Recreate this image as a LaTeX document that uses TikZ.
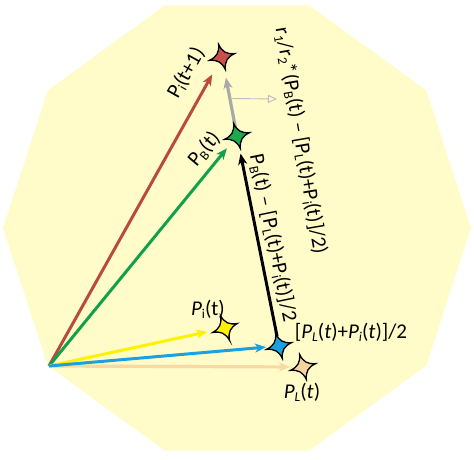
\documentclass[tikz,border=0pt]{standalone}
\usepackage{fontspec}
\setmainfont{Carlito}
\usetikzlibrary{arrows.meta,calc}
\definecolor{bg}{HTML}{FFFCC9}
\definecolor{cred}{HTML}{B84A3E}
\definecolor{sred}{HTML}{C9504A}
\definecolor{cgrn}{HTML}{12A04A}
\definecolor{sgrn}{HTML}{1DAA4C}
\definecolor{cyel}{HTML}{FFF200}
\definecolor{cblu}{HTML}{1BA1DF}
\definecolor{ctan}{HTML}{F8D9A3}
\definecolor{stan}{HTML}{F4D49C}
\definecolor{cgry}{HTML}{A9A9A9}
\definecolor{cthin}{HTML}{BDBDBD}
\newcommand\sbs[1]{\raisebox{-0.28ex}{\fontsize{13.5}{14}\selectfont #1}}
\newcommand\qstar[3]{%
  \begin{scope}[shift={(#1.center)},rotate=#3]
    \draw[fill=#2,line width=1.3pt,line join=miter]
      (0,13) .. controls (1.5,5) and (5,1.5) .. (13,0)
      .. controls (5,-1.5) and (1.5,-5) .. (0,-13)
      .. controls (-1.5,-5) and (-5,-1.5) .. (-13,0)
      .. controls (-5,1.5) and (-1.5,5) .. cycle;
  \end{scope}}
\begin{document}
\begin{tikzpicture}[x=1pt,y=-1pt,
  arr/.style={line width=3pt,-{Stealth[length=11pt,width=9pt,inset=3pt]}},
  starn/.style={inner sep=0pt,minimum size=0pt},
  lbl/.style={font=\fontsize{21}{23}\selectfont,inner sep=1pt}]
\useasboundingbox (0,0) rectangle (474,460);
\fill[bg,shift={(237,228)}] (0:234) \foreach \a in {36,72,...,324}{ -- (\a:234)} -- cycle;
\coordinate (O) at (49,366);
\node[starn] (red) at (222,57) {};
\node[starn] (grn) at (237,136) {};
\node[starn] (yel) at (225,328) {};
\node[starn] (blu) at (279,346) {};
\node[starn] (tan) at (303,367) {};
% arrows
\draw[arr,ctan,line width=3.2pt,shorten >=13pt] (O) -- (tan.center);
\draw[arr,cred,shorten >=20pt] (O) -- (red.center);
\draw[arr,cgrn,shorten >=16pt] (O) -- (grn.center);
\draw[arr,cyel,shorten >=18pt] (O) -- (yel.center);
\draw[arr,cblu,shorten >=13pt] (O) -- (blu.center);
\draw[arr,black,shorten <=10pt,shorten >=18pt] (blu.center) -- (grn.center);
\draw[arr,cgry,line width=3.2pt,shorten <=7pt,shorten >=21pt] (grn.center) -- (red.center);
\coordinate (g) at ($(grn.center)!0.475!(red.center)$);
\coordinate (gt) at (277,99);
\draw[cthin,line width=0.9pt,-{Triangle[open,length=9pt,width=8pt]}] (g) -- (gt);
% stars
\qstar{red}{sred}{15}
\qstar{grn}{sgrn}{15}
\qstar{yel}{cyel}{20}
\qstar{blu}{cblu}{15}
\qstar{tan}{stan}{15}
% labels
\node[lbl,rotate=60.6] (l1) at (186,73) {P\sbs{i}(t+1)};
\node[lbl,rotate=49.8] (l2) at (204,149) {P\sbs{B}(t)};
\node[lbl,rotate=-78.4] (l3) at (273,238) {P\sbs{B}(t) – [P\sbs{L}(t)+P\sbs{i}(t)]/2};
\node[lbl,rotate=-80.3] (l4) at (301,141) {r\sbs{1}/r\sbs{2}*(P\sbs{B}(t) – [P\sbs{L}(t)+P\sbs{i}(t)]/2)};
\node[lbl] (l5) at (208,309) {\textit{P}\sbs{i}(t)};
\node[lbl] (l6) at (351,332) {[\textit{P}\sbs{\textit{L}}(\textit{t})+\textit{P}\sbs{\textit{i}}(\textit{t})]/2};
\node[lbl] (l7) at (302,392) {\textit{P}\sbs{\textit{L}}(\textit{t})};
\end{tikzpicture}
\end{document}
